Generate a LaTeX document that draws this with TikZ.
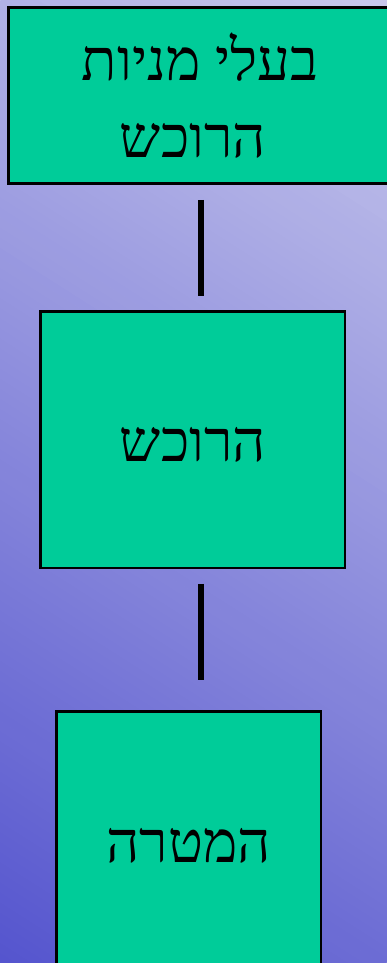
\documentclass[tikz,border=0pt]{standalone}
\usepackage{fontspec}
\TeXXeTstate=1
\newfontfamily\hebfont[Script=Hebrew]{Liberation Serif}
\definecolor{bglight}{HTML}{C8C8EC}
\definecolor{bgdark}{HTML}{5555CE}
\definecolor{boxgreen}{HTML}{00CC99}
\tikzset{
  greenbox/.style={draw=black, line width=2.25pt, fill=boxgreen, rectangle, inner sep=0pt},
  hebtext/.style={anchor=base, inner sep=0pt, font=\hebfont\fontsize{58}{64}\selectfont},
  link/.style={line width=6pt, black}
}
\begin{document}
\begin{tikzpicture}[x=1pt,y=1pt]
\useasboundingbox (0,0) rectangle (387,963);
\begin{scope}
\clip (0,0) rectangle (387,963);
\begin{scope}[rotate=-32.5]
\foreach \i in {0,...,119}{
  \pgfmathsetmacro{\pct}{(\i+0.5)/1.2}
  \pgfmathsetmacro{\ya}{8.4967*\i}
  \pgfmathsetmacro{\yb}{8.4967*\i+9.1}
  \fill[bglight!\pct!bgdark] (-517,\ya) rectangle (326,\yb);
}
\end{scope}
\end{scope}
% boxes
\node[greenbox, minimum width=391.5pt, minimum height=176pt] (b1) at (204.25,867.5) {};
\node[greenbox, minimum width=304.5pt, minimum height=256.5pt] (b2) at (192.75,523.25) {};
\node[greenbox, minimum width=264.5pt, minimum height=288.5pt] (b3) at (188.75,107.25) {};
% texts
\node[hebtext] (t1a) at (200,882) {\beginR בעלי מניות\endR};
\node[hebtext] (t1b) at (193,805) {\beginR הרוכש\endR};
\node[hebtext] (t2) at (193,501) {\beginR הרוכש\endR};
\node[hebtext] (t3) at (188.5,100) {\beginR המטרה\endR};
% connectors
\coordinate (l1a) at (201,763);
\coordinate (l1b) at (201,667);
\coordinate (l2a) at (201,379);
\coordinate (l2b) at (201,283);
\draw[link] (l1a) -- (l1b);
\draw[link] (l2a) -- (l2b);
\end{tikzpicture}
\end{document}
